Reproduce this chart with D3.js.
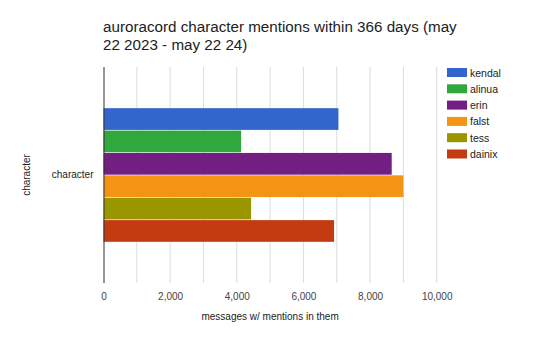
<!DOCTYPE html>
<html>
<head>
<meta charset="utf-8">
<script src="https://cdn.jsdelivr.net/npm/d3@7"></script>
<style>
	body { margin: 0; background: #fff; }
	svg { font-family: "Liberation Sans", Arial, sans-serif; }
</style>
</head>
<body>
<div id="chart"></div>
<script>
// data
const categories = ["character"]
const seriesNames = ["kendal", "alinua", "erin", "falst", "tess", "dainix"]
const seriesValues = [7050, 4130, 8650, 9000, 4430, 6920]
const seriesColors = ["#3366cc", "#30a83e", "#731e83", "#f39414", "#9a9600", "#c33c11"]
const xTicks = [0, 2000, 4000, 6000, 8000, 10000]
const gridTicks = d3.range(1000, 11000, 1000)

const width = 540
const height = 352
const margin = { top: 67, right: 103, bottom: 69, left: 103.5 }
const innerW = 436.7 - margin.left
const innerH = height - margin.top - margin.bottom

const svg = d3.select("#chart")
	.append("svg")
	.attr("width", width)
	.attr("height", height)

// Title
const title = svg.append("text")
	.attr("x", 103)
	.attr("y", 32)
	.style("font-size", "15.2px")
	.style("fill", "#222")
title.append("tspan").attr("x", 103).text("auroracord character mentions within 366 days (may")
title.append("tspan").attr("x", 103).attr("dy", 18).text("22 2023 - may 22 24)")

const g = svg.append("g")
	.attr("transform", `translate(${margin.left},${margin.top})`)

const xScale = d3.scaleLinear().domain([0, 10000]).range([0, innerW])
const yScale = d3.scaleBand().domain(categories).range([0, innerH]).paddingInner(0).paddingOuter(0.3)
const barScale = d3.scaleBand().domain(seriesNames).range([0, yScale.bandwidth()]).padding(0.03)

// gridlines
g.append("g")
	.selectAll("line")
	.data(gridTicks)
	.join("line")
	.attr("x1", (d) => xScale(d))
	.attr("x2", (d) => xScale(d))
	.attr("y1", 0)
	.attr("y2", innerH)
	.attr("stroke", "#dcdcdc")
	.attr("stroke-width", 1)

// bars
const bars = g.append("g")
	.attr("transform", `translate(0,${yScale("character")})`)

bars.selectAll("rect")
	.data(seriesNames.map((name, i) => ({ name, value: seriesValues[i], color: seriesColors[i] })))
	.join("rect")
	.attr("x", 0)
	.attr("y", (d) => barScale(d.name))
	.attr("width", (d) => xScale(d.value))
	.attr("height", barScale.bandwidth())
	.attr("fill", (d) => d.color)

// zero axis line
g.append("line")
	.attr("x1", 0.5)
	.attr("x2", 0.5)
	.attr("y1", 0)
	.attr("y2", innerH)
	.attr("stroke", "#333")
	.attr("stroke-width", 1)

// x tick labels
const xAxis = g.append("g")
	.attr("transform", `translate(0,${innerH})`)
	.call(d3.axisBottom(xScale).tickValues(xTicks).tickFormat(d3.format(",")).tickSize(0).tickPadding(10))
xAxis.select(".domain").remove()
xAxis.selectAll("text")
	.style("font-size", "10px")
	.style("fill", "#444")
	.style("font-family", "Liberation Sans, Arial, sans-serif")

// y tick label
const yAxis = g.append("g")
	.call(d3.axisLeft(yScale).tickSize(0).tickPadding(10))
yAxis.select(".domain").remove()
yAxis.selectAll("text")
	.style("font-size", "10px")
	.style("fill", "#222")
	.style("font-family", "Liberation Sans, Arial, sans-serif")

// axis titles
svg.append("text")
	.attr("x", margin.left + innerW / 2)
	.attr("y", 320)
	.attr("text-anchor", "middle")
	.style("font-size", "10px")
	.style("fill", "#222")
	.text("messages w/ mentions in them")

svg.append("text")
	.attr("transform", `translate(30,${margin.top + innerH / 2}) rotate(-90)`)
	.attr("text-anchor", "middle")
	.style("font-size", "10px")
	.style("fill", "#222")
	.text("character")

// legend
const legend = svg.append("g")
	.attr("transform", "translate(447,68)")

seriesNames.forEach((name, i) => {
	const row = legend.append("g")
		.attr("transform", `translate(0, ${i * 16.3})`)
	row.append("rect")
		.attr("width", 20)
		.attr("height", 9)
		.attr("fill", seriesColors[i])
	row.append("text")
		.attr("x", 23)
		.attr("y", 8.5)
		.style("font-size", "10.5px")
		.style("fill", "#222")
		.text(name)
})
</script>
</body>
</html>
